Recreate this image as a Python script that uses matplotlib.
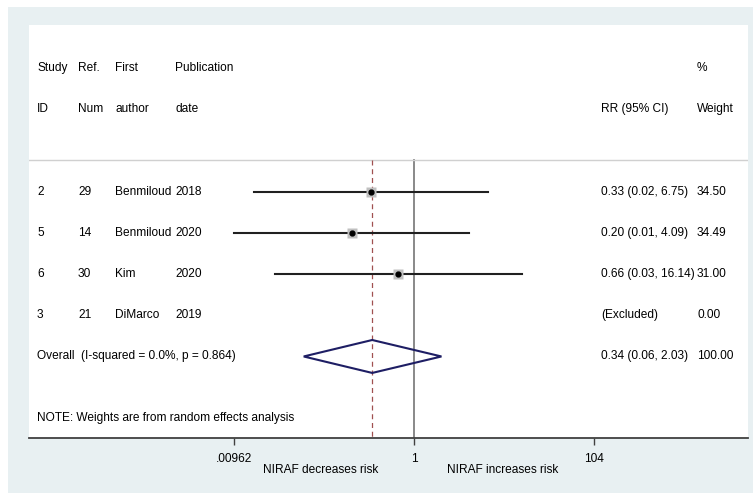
import numpy as np
import matplotlib
matplotlib.use("Agg")
import matplotlib.pyplot as plt
import matplotlib.transforms as mtransforms
from matplotlib.patches import Rectangle, Polygon

plt.rcParams['font.family'] = ['Liberation Sans', 'DejaVu Sans']

# study data
study_id = ["2", "5", "6", "3"]
ref_num = ["29", "14", "30", "21"]
author = ["Benmiloud", "Benmiloud", "Kim", "DiMarco"]
pub_year = ["2018", "2020", "2020", "2019"]
rr = [0.33, 0.20, 0.66, None]
lo = [0.016, 0.0097, 0.028, None]
hi = [6.75, 4.09, 16.14, None]
weight = [34.50, 34.49, 31.00, 0.00]
rr_text = ["0.33 (0.02, 6.75)", "0.20 (0.01, 4.09)", "0.66 (0.03, 16.14)", "(Excluded)"]

overall_rr = 0.34
overall_lo = 0.058
overall_hi = 2.03
overall_text = "0.34 (0.06, 2.03)"
overall_label = "Overall  (I-squared = 0.0%, p = 0.864)"
note = "NOTE: Weights are from random effects analysis"

tick_vals = [0.00962, 1, 104]
tick_labels = [".00962", "1", "104"]

W, H = 753, 493
fig = plt.figure(figsize=(W / 100, H / 100), dpi=100, facecolor="white")
fig.patches.append(Rectangle((8 / W, 0), 1, 1 - 7 / H, transform=fig.transFigure,
                             facecolor="#e8f0f2", edgecolor="none", zorder=-10))

L, R, T, B = 29, 748, 25, 438
ax = fig.add_axes([L / W, 1 - B / H, (R - L) / W, (B - T) / H])
ax.set_facecolor("white")
ax.set_xscale("log")
ax.set_xlim(10 ** -4.316, 10 ** 3.744)
ax.set_ylim(5.98, -4.05)

for s in ["top", "left", "right"]:
    ax.spines[s].set_visible(False)
ax.spines["bottom"].set_color("#404040")
ax.spines["bottom"].set_linewidth(1.3)
ax.set_yticks([])
ax.set_xticks(tick_vals)
ax.set_xticklabels(tick_labels)
ax.xaxis.set_minor_locator(matplotlib.ticker.NullLocator())
ax.tick_params(axis="x", length=5, width=1, color="#404040", labelsize=8.6, pad=6)

fs = 8.6
tr = mtransforms.blended_transform_factory(ax.transAxes, ax.transData)

def px(x):
    return (x - L) / (R - L)

# header
ax.text(px(37), -3, "Study", transform=tr, fontsize=fs, va="center")
ax.text(px(78), -3, "Ref.", transform=tr, fontsize=fs, va="center")
ax.text(px(115), -3, "First", transform=tr, fontsize=fs, va="center")
ax.text(px(175), -3, "Publication", transform=tr, fontsize=fs, va="center")
ax.text(px(697), -3, "%", transform=tr, fontsize=fs, va="center")
ax.text(px(37), -2, "ID", transform=tr, fontsize=fs, va="center")
ax.text(px(78), -2, "Num", transform=tr, fontsize=fs, va="center")
ax.text(px(115), -2, "author", transform=tr, fontsize=fs, va="center")
ax.text(px(175), -2, "date", transform=tr, fontsize=fs, va="center")
ax.text(px(601), -2, "RR (95% CI)", transform=tr, fontsize=fs, va="center")
ax.text(px(697), -2, "Weight", transform=tr, fontsize=fs, va="center")

ax.plot([0, 1], [-0.77, -0.77], transform=tr, color="#d0d0d0", lw=1)

# reference lines
ax.plot([1, 1], [-0.77, 5.98], color="#808080", lw=1.3, zorder=1)
ax.plot([overall_rr, overall_rr], [-0.77, 5.98], color="#a05050", lw=0.9,
        ls=(0, (4, 3)), zorder=2)

for i in range(len(study_id)):
    y = i
    ax.text(px(37), y, study_id[i], transform=tr, fontsize=fs, va="center")
    ax.text(px(78), y, ref_num[i], transform=tr, fontsize=fs, va="center")
    ax.text(px(115), y, author[i], transform=tr, fontsize=fs, va="center")
    ax.text(px(175), y, pub_year[i], transform=tr, fontsize=fs, va="center")
    ax.text(px(601), y, rr_text[i], transform=tr, fontsize=fs, va="center")
    ax.text(px(697), y, "%.2f" % weight[i], transform=tr, fontsize=fs, va="center")
    if rr[i] is not None:
        ax.plot([lo[i], hi[i]], [y, y], color="#202020", lw=1.5, zorder=3)
        ax.plot(rr[i], y, marker="s", ms=6.5, color="#c0c0c0", mec="none", zorder=4)
        ax.plot(rr[i], y, marker="o", ms=3.5, color="black", zorder=5)

# overall
yo = 4
ax.text(px(37), yo, overall_label, transform=tr, fontsize=fs, va="center")
ax.text(px(601), yo, overall_text, transform=tr, fontsize=fs, va="center")
ax.text(px(697), yo, "100.00", transform=tr, fontsize=fs, va="center")
diamond = Polygon([[overall_lo, yo], [overall_rr, yo - 0.4], [overall_hi, yo],
                   [overall_rr, yo + 0.4]], closed=True, fill=False,
                  edgecolor="#1e1e64", lw=1.5, zorder=4)
ax.add_patch(diamond)

ax.text(px(37), 5.5, note, transform=tr, fontsize=fs, va="center")

# bottom labels
fig.text(321 / W, 1 - 470 / H, "NIRAF decreases risk", fontsize=fs, ha="center", va="center")
fig.text(503 / W, 1 - 470 / H, "NIRAF increases risk", fontsize=fs, ha="center", va="center")

fig.savefig("out.png", dpi=100)
